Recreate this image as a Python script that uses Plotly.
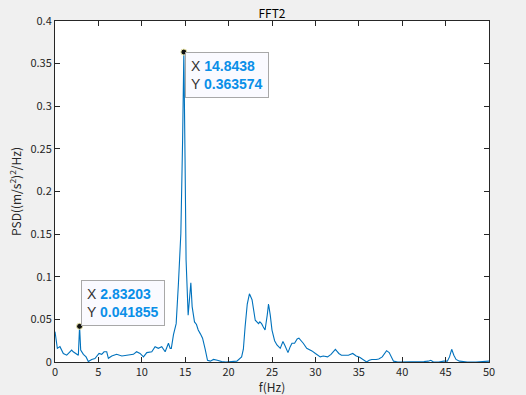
import plotly.graph_objects as go

# Frequency (Hz) and PSD values
freq = [0.0, 0.27, 0.57, 0.96, 1.35, 1.92, 2.1, 2.42, 2.69, 2.832, 2.96, 3.27, 3.58, 3.84, 4.23, 4.6,
        5.07, 5.38, 5.65, 5.96, 6.15, 6.54, 7.1, 7.7, 8.46, 9.03, 9.4, 9.8, 10.19, 10.58, 11.15,
        11.53, 11.9, 12.3, 12.69, 13.07, 13.27, 13.4, 13.65, 13.96, 14.22, 14.5, 14.7, 14.844,
        14.98, 15.1, 15.34, 15.5, 15.65, 15.8, 16.07, 16.3, 16.5, 16.75, 17.0, 17.3, 17.57,
        17.9, 18.26, 18.7, 19.2, 19.7, 20.3, 20.95, 21.5, 21.7, 21.9, 22.15, 22.4, 22.7, 23.07,
        23.3, 23.45, 23.6, 23.8, 24.0, 24.2, 24.45, 24.6, 24.8, 25.0, 25.3, 25.57, 25.95, 26.26,
        26.5, 26.84, 27.1, 27.3, 27.6, 27.9, 28.1, 28.3, 28.6, 29.0, 29.2, 29.6, 30.0, 30.56,
        30.9, 31.4, 31.8, 32.1, 32.3, 32.45, 32.7, 33.0, 33.4, 33.8, 34.3, 34.7, 35.1, 35.5,
        35.9, 36.2, 36.5, 37.0, 37.3, 37.7, 38.0, 38.2, 38.5, 38.8, 39.0, 39.5, 40.5, 41.5,
        42.5, 43.0, 43.3, 43.6, 44.2, 44.8, 45.2, 45.45, 45.7, 45.95, 46.2, 46.6, 47.5, 48.5,
        49.3, 50.0]
psd = [0.0356, 0.016, 0.018, 0.010, 0.008, 0.014, 0.012, 0.010, 0.008, 0.041855, 0.014, 0.009,
       0.006, 0.0005, 0.003, 0.004, 0.010, 0.009, 0.012, 0.012, 0.0043, 0.007, 0.009, 0.007,
       0.008, 0.009, 0.012, 0.010, 0.006, 0.011, 0.012, 0.018, 0.016, 0.018, 0.012, 0.022,
       0.016, 0.016, 0.032, 0.045, 0.092, 0.151, 0.26, 0.363574, 0.24, 0.12, 0.055, 0.075,
       0.093, 0.065, 0.047, 0.044, 0.0375, 0.033, 0.028, 0.015, 0.002, 0.001, 0.003, 0.002,
       0.0005, 0.0, 0.0005, 0.001, 0.006, 0.015, 0.041, 0.068, 0.080, 0.073, 0.049, 0.047,
       0.045, 0.047, 0.045, 0.041, 0.0375, 0.055, 0.068, 0.055, 0.0375, 0.025, 0.020, 0.016,
       0.024, 0.019, 0.011, 0.018, 0.022, 0.022, 0.027, 0.028, 0.026, 0.022, 0.016, 0.015,
       0.013, 0.010, 0.006, 0.007, 0.006, 0.009, 0.013, 0.0149, 0.013, 0.010, 0.008, 0.008,
       0.008, 0.010, 0.007, 0.0055, 0.003, 0.0, 0.002, 0.003, 0.003, 0.0035, 0.006, 0.011,
       0.0133, 0.011, 0.005, 0.001, 0.0, 0.0, 0.0003, 0.0005, 0.001, 0.002, 0.0, 0.0,
       0.001, 0.001, 0.006, 0.0149, 0.008, 0.003, 0.001, 0.0, 0.0, 0.0005, 0.001]

tip_x = [14.8438, 2.83203]
tip_y = [0.363574, 0.041855]
tip_xlab = ["14.8438", "2.83203"]
tip_ylab = ["0.363574", "0.041855"]

xticks = [0, 5, 10, 15, 20, 25, 30, 35, 40, 45, 50]
yticks = [0, 0.05, 0.1, 0.15, 0.2, 0.25, 0.3, 0.35, 0.4]

FONT = "Noto Sans CJK JP, Liberation Sans, sans-serif"
AX = "#262626"

fig = go.Figure()
fig.add_trace(go.Scatter(x=freq, y=psd, mode="lines",
                         line=dict(color="#0072BD", width=1.1), hoverinfo="skip"))
fig.add_trace(go.Scatter(x=tip_x, y=tip_y, mode="markers",
                         marker=dict(color="#111111", size=6,
                                     line=dict(color="#f2eeb0", width=1)),
                         hoverinfo="skip"))

val_color = "#0a8fe8"
for i, (tx, ty) in enumerate(zip(tip_x, tip_y)):
    txt = (f"<span style='color:#333333'>X </span><b><span style='color:{val_color}'>{tip_xlab[i]}</span></b><br>"
           f"<span style='color:#333333'>Y </span><b><span style='color:{val_color}'>{tip_ylab[i]}</span></b>")
    fig.add_annotation(x=tx, y=ty, xref="x", yref="y", text=txt, showarrow=False,
                       xanchor="left", yanchor="top" if i == 0 else "bottom",
                       xshift=1, align="left",
                       bgcolor="#fafaff", bordercolor="#a8a8a8", borderwidth=1, borderpad=5,
                       font=dict(family="Liberation Sans, Arial, sans-serif", size=14))

axis_common = dict(showline=True, linecolor=AX, linewidth=1, mirror="ticks",
                   ticks="inside", ticklen=5, tickcolor=AX, tickwidth=1,
                   showgrid=False, zeroline=False, automargin=False,
                   tickfont=dict(family=FONT, size=11, color=AX))

fig.update_layout(
    width=526, height=395,
    margin=dict(l=55, r=37, t=21, b=33),
    paper_bgcolor="#f0f0f0", plot_bgcolor="#ffffff",
    showlegend=False,
    title=dict(text="FFT2", x=0.5, xref="paper", xanchor="center",
               y=1, yref="paper", yanchor="bottom", pad=dict(b=3),
               font=dict(family=FONT, size=12, color="#000000")),
    xaxis=dict(range=[0, 50], tickvals=xticks,
               title=dict(text="f(Hz)", standoff=2,
                          font=dict(family=FONT, size=12, color=AX)),
               **axis_common),
    yaxis=dict(range=[0, 0.4], tickvals=yticks,
               ticktext=[("%g" % v) for v in yticks],
               title=dict(text="PSD((m/s<sup>2</sup>)<sup>2</sup>/Hz)", standoff=6,
                          font=dict(family=FONT, size=12, color=AX)),
               **axis_common),
)

fig.write_html(
    "out.html",
    config={"displayModeBar": False},
    post_script="document.body.style.margin='0';document.body.style.background='#f0f0f0';",
)
